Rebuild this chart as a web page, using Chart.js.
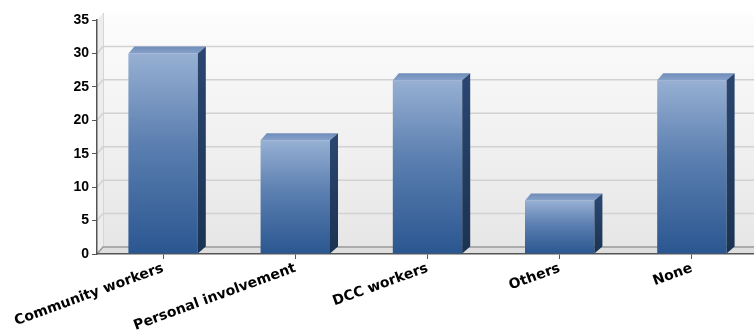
<!DOCTYPE html>
<html>
<head>
<meta charset="utf-8">
<script src="https://cdn.jsdelivr.net/npm/chart.js@4.4.1/dist/chart.umd.min.js"></script>
<style>
  html, body { margin: 0; padding: 0; background: #ffffff; overflow: hidden; }
  #wrap { position: relative; width: 760px; height: 335px; }
</style>
</head>
<body>
<div id="wrap"><canvas id="chart"></canvas></div>
<script>
// Survey answers and their counts
const categories = ['Community workers', 'Personal involvement', 'DCC workers', 'Others', 'None'];
const responses = [30, 17, 26, 8, 26];
const yMin = 0;
const yMax = 35;
const yStep = 5;

// depth of the back wall and of each bar
const WALL_DX = 6, WALL_DY = 7;
const BAR_DX = 8, BAR_DY = 7;

function frontFill(ctx) {
  const chart = ctx.chart;
  const y = chart.scales.y;
  if (!y || !chart.chartArea) return '#4a6fa5';
  const top = y.getPixelForValue(ctx.raw);
  const base = y.getPixelForValue(0);
  const g = chart.ctx.createLinearGradient(0, top, 0, base);
  g.addColorStop(0, '#97b0d3');
  g.addColorStop(0.45, '#5b7fb0');
  g.addColorStop(1, '#2a5690');
  return g;
}

const depthPlugin = {
  id: 'depth3d',
  beforeDraw(chart) {
    const c = chart.ctx;
    const a = chart.chartArea;
    const ys = chart.scales.y;
    c.save();
    // back wall
    const wg = c.createLinearGradient(0, a.top - WALL_DY, 0, a.bottom - WALL_DY);
    wg.addColorStop(0, '#fdfdfd');
    wg.addColorStop(1, '#e6e6e6');
    c.fillStyle = wg;
    c.fillRect(a.left + WALL_DX, a.top - WALL_DY, a.right - a.left, a.bottom - a.top);
    // left wall
    c.fillStyle = '#ededed';
    c.beginPath();
    c.moveTo(a.left, a.top);
    c.lineTo(a.left + WALL_DX, a.top - WALL_DY);
    c.lineTo(a.left + WALL_DX, a.bottom - WALL_DY);
    c.lineTo(a.left, a.bottom);
    c.closePath();
    c.fill();
    c.strokeStyle = '#d6d6d6';
    c.lineWidth = 1;
    c.beginPath();
    c.moveTo(a.left + WALL_DX + 0.5, a.top - WALL_DY);
    c.lineTo(a.left + WALL_DX + 0.5, a.bottom - WALL_DY);
    c.stroke();
    // grid lines on the back wall
    c.strokeStyle = '#d2d2d2';
    c.lineWidth = 1.5;
    for (let v = yMin + yStep; v < yMax; v += yStep) {
      const py = ys.getPixelForValue(v);
      c.beginPath();
      c.moveTo(a.left, py);
      c.lineTo(a.left + WALL_DX, py - WALL_DY);
      c.lineTo(a.right + WALL_DX, py - WALL_DY);
      c.stroke();
    }
    // floor
    c.fillStyle = '#dedede';
    c.beginPath();
    c.moveTo(a.left, a.bottom);
    c.lineTo(a.left + WALL_DX, a.bottom - WALL_DY);
    c.lineTo(a.right + WALL_DX, a.bottom - WALL_DY);
    c.lineTo(a.right, a.bottom);
    c.closePath();
    c.fill();
    c.strokeStyle = '#9a9a9a';
    c.lineWidth = 1.5;
    c.beginPath();
    c.moveTo(a.left, a.bottom);
    c.lineTo(a.left + WALL_DX, a.bottom - WALL_DY);
    c.lineTo(a.right + WALL_DX, a.bottom - WALL_DY);
    c.stroke();
    c.restore();
  },
  afterDatasetsDraw(chart) {
    const c = chart.ctx;
    const meta = chart.getDatasetMeta(0);
    c.save();
    meta.data.forEach((bar) => {
      const p = bar.getProps(['x', 'y', 'base', 'width'], true);
      const x0 = p.x - p.width / 2, x1 = p.x + p.width / 2;
      // top face
      const tg = c.createLinearGradient(0, p.y - BAR_DY, 0, p.y);
      tg.addColorStop(0, '#6f8dba');
      tg.addColorStop(1, '#86a1c9');
      c.fillStyle = tg;
      c.beginPath();
      c.moveTo(x0, p.y);
      c.lineTo(x0 + BAR_DX * 0.75, p.y - BAR_DY);
      c.lineTo(x1 + BAR_DX, p.y - BAR_DY);
      c.lineTo(x1, p.y);
      c.closePath();
      c.fill();
      // right side face
      const sg = c.createLinearGradient(0, p.y, 0, p.base);
      sg.addColorStop(0, '#2a4670');
      sg.addColorStop(1, '#1b3352');
      c.fillStyle = sg;
      c.beginPath();
      c.moveTo(x1, p.y);
      c.lineTo(x1 + BAR_DX, p.y - BAR_DY);
      c.lineTo(x1 + BAR_DX, p.base - BAR_DY);
      c.lineTo(x1, p.base);
      c.closePath();
      c.fill();
    });
    c.restore();
  }
};

new Chart(document.getElementById('chart'), {
  type: 'bar',
  data: {
    labels: categories,
    datasets: [{
      data: responses,
      backgroundColor: frontFill,
      borderWidth: 0,
      categoryPercentage: 1,
      barPercentage: 0.525
    }]
  },
  options: {
    responsive: true,
    maintainAspectRatio: false,
    animation: false,
    layout: { padding: { top: 20, right: 2, left: 0, bottom: 0 } },
    plugins: { legend: { display: false }, tooltip: { enabled: false } },
    scales: {
      x: {
        grid: { offset: false, drawOnChartArea: false, drawTicks: true, tickLength: 5, color: '#555555' },
        border: { color: '#555555', width: 1.5 },
        ticks: {
          minRotation: 20, maxRotation: 20, padding: 1,
          color: '#000000',
          font: { family: 'DejaVu Sans', size: 14, weight: 'bold' }
        },
        afterFit(scale) { scale.height = 81; }
      },
      y: {
        min: yMin, max: yMax,
        grid: { drawOnChartArea: false, drawTicks: true, tickLength: 5, color: '#555555' },
        border: { color: '#555555', width: 1.5 },
        ticks: {
          stepSize: yStep, padding: 3,
          color: '#000000',
          font: { family: 'Liberation Sans', size: 14, weight: 'bold' }
        },
        afterFit(scale) { scale.width = 97; }
      }
    }
  },
  plugins: [depthPlugin]
});
</script>
</body>
</html>
